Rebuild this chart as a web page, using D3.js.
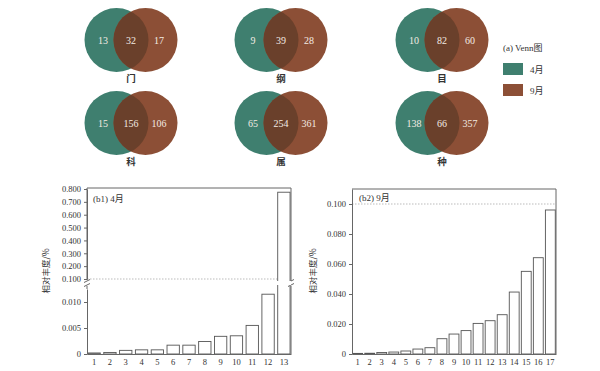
<!DOCTYPE html>
<html>
<head>
<meta charset="utf-8">
<script src="https://cdn.jsdelivr.net/npm/d3@7"></script>
<style>
  body { margin: 0; background: #fff; }
  svg { display: block; font-family: "Liberation Serif", "Noto Sans CJK SC", serif; }
</style>
</head>
<body>
<svg id="chart" width="600" height="371"></svg>
<script>
// venn data
var vennLabels = ['门', '纲', '目', '科', '属', '种'];
var aprOnly = [13, 9, 10, 15, 65, 138];
var shared = [32, 39, 82, 156, 254, 66];
var sepOnly = [17, 28, 60, 106, 361, 357];
var seriesNames = ['4月', '9月'];

// bar data (relative abundance, %)
var aprCats = [1, 2, 3, 4, 5, 6, 7, 8, 9, 10, 11, 12, 13];
var aprVals = [0.0002, 0.0003, 0.0007, 0.0008, 0.0008, 0.0017, 0.0017, 0.0024, 0.0034, 0.0035, 0.0055, 0.0115, 0.775];
var sepCats = [1, 2, 3, 4, 5, 6, 7, 8, 9, 10, 11, 12, 13, 14, 15, 16, 17];
var sepVals = [0.0004, 0.0005, 0.001, 0.0013, 0.002, 0.0033, 0.0042, 0.0102, 0.0133, 0.0156, 0.0204, 0.0222, 0.0262, 0.0413, 0.0551, 0.0642, 0.096];
var lowTicks = [0, 0.005, 0.010];
var highTicks = [0.1, 0.2, 0.3, 0.4, 0.5, 0.6, 0.7, 0.8];
var sepTicks = [0, 0.02, 0.04, 0.06, 0.08, 0.1];

var green = '#3f7f6f', brown = '#8c4f36', dark = '#6a402b';
var svg = d3.select('#chart');
var cjk = '"Noto Sans CJK SC", sans-serif';

// ---- Venn ----
var colX = [131, 281, 442], rowY = [40, 123];
var r = 32, d = 14.5;
var defs = svg.append('defs');
vennLabels.forEach(function(lab, i) {
  var cx = colX[i % 3], cy = rowY[Math.floor(i / 3)];
  var g = svg.append('g').attr('transform', 'translate(' + cx + ',' + cy + ')');
  defs.append('clipPath').attr('id', 'clip' + i)
    .append('circle').attr('cx', -d).attr('cy', 0).attr('r', r);
  g.append('circle').attr('cx', -d).attr('r', r).attr('fill', green);
  g.append('circle').attr('cx', d).attr('r', r).attr('fill', brown);
  g.append('circle').attr('cx', d).attr('r', r).attr('fill', dark).attr('clip-path', 'url(#clip' + i + ')');
  var nums = [aprOnly[i], shared[i], sepOnly[i]];
  g.selectAll('text.n').data(nums).enter().append('text')
    .attr('class', 'n')
    .attr('x', function(v, k) { return (k - 1) * 28; })
    .attr('y', 4)
    .attr('text-anchor', 'middle')
    .attr('font-size', 10)
    .attr('fill', '#f3ebe3')
    .text(function(v) { return v; });
  g.append('text').attr('x', 0).attr('y', 42)
    .attr('text-anchor', 'middle').attr('font-size', 9.5)
    .style('font-family', cjk).style('font-weight', 'bold').attr('fill', '#333')
    .text(lab);
});

// legend
svg.append('text').attr('x', 503).attr('y', 51).attr('font-size', 9).attr('fill', '#333')
  .text('(a) Venn').append('tspan').style('font-family', cjk).text('图');
seriesNames.forEach(function(s, i) {
  svg.append('rect').attr('x', 503).attr('y', 63 + i * 21).attr('width', 20).attr('height', 12)
    .attr('fill', i ? brown : green);
  svg.append('text').attr('x', 530).attr('y', 73 + i * 21).attr('font-size', 9).attr('fill', '#333')
    .text(s.replace('月', '')).append('tspan').style('font-family', cjk).text('月');
});

// ---- shared helpers ----
var axisColor = '#666', tickFont = 8.5;
function styleAxis(g) {
  g.selectAll('path,line').attr('stroke', axisColor);
  g.selectAll('text').attr('font-size', tickFont).attr('fill', '#333').style('font-family', '"Liberation Serif", serif');
}
function fmt(v) { return v === 0 ? '0' : d3.format('.3f')(v); }
function yLabel(x, y) {
  svg.append('text').attr('transform', 'translate(' + x + ',' + y + ') rotate(-90)')
    .attr('text-anchor', 'middle').attr('font-size', 8.5).attr('fill', '#333')
    .style('font-family', cjk).text('相对丰度/%');
}
function breakMark(x, y) {
  svg.append('rect').attr('x', x - 4).attr('y', y - 2).attr('width', 8).attr('height', 5).attr('fill', '#fff');
  [-2, 2].forEach(function(o) {
    svg.append('line').attr('x1', x - 3).attr('x2', x + 3).attr('y1', y + o + 1.5).attr('y2', y + o - 1.5)
      .attr('stroke', axisColor);
  });
}

// ---- (b1) April, broken axis ----
var b1 = {left: 87, right: 291, top: 188, bottom: 354};
var x1 = d3.scaleBand().domain(aprCats).range([b1.left, b1.right]).paddingInner(0.22).paddingOuter(0.06);
var yLow = d3.scaleLinear().domain([0, 0.0125]).range([b1.bottom, 289]);
var yHigh = d3.scaleLinear().domain([0.1, 0.8]).range([279, 189]);
var breakY = 283;

// frame
svg.append('line').attr('x1', b1.left).attr('x2', b1.right).attr('y1', b1.top).attr('y2', b1.top).attr('stroke', axisColor);
svg.append('line').attr('x1', b1.right).attr('x2', b1.right).attr('y1', b1.top).attr('y2', b1.bottom).attr('stroke', axisColor);
// dotted line at 0.1
svg.append('line').attr('x1', b1.left).attr('x2', b1.right).attr('y1', yHigh(0.1)).attr('y2', yHigh(0.1))
  .attr('stroke', '#bbb').attr('stroke-dasharray', '1.5,1.5');

svg.selectAll('rect.b1').data(aprVals).enter().append('rect')
  .attr('class', 'b1')
  .attr('x', function(v, i) { return x1(aprCats[i]); })
  .attr('width', x1.bandwidth())
  .attr('y', function(v) { return v > 0.05 ? yHigh(v) : yLow(v); })
  .attr('height', function(v) { return b1.bottom - (v > 0.05 ? yHigh(v) : yLow(v)); })
  .attr('fill', '#fff').attr('stroke', '#555').attr('stroke-width', 0.9);

svg.append('g').attr('transform', 'translate(' + b1.left + ',0)')
  .call(d3.axisLeft(yLow).tickValues(lowTicks).tickFormat(fmt).tickSize(3).tickSizeOuter(0)).call(styleAxis);
svg.append('g').attr('transform', 'translate(' + b1.left + ',0)')
  .call(d3.axisLeft(yHigh).tickValues(highTicks).tickFormat(fmt).tickSize(3).tickSizeOuter(0)).call(styleAxis);
svg.append('line').attr('x1', b1.left).attr('x2', b1.left).attr('y1', b1.top).attr('y2', 280).attr('stroke', axisColor);
svg.append('line').attr('x1', b1.left).attr('x2', b1.left).attr('y1', 286).attr('y2', 289).attr('stroke', axisColor);
svg.append('g').attr('transform', 'translate(0,' + b1.bottom + ')')
  .call(d3.axisBottom(x1).tickSize(0).tickPadding(5)).call(styleAxis);

// breaks on axes and tall bar
breakMark(b1.left, breakY);
breakMark(b1.right, breakY);
var tall = x1(aprCats[aprCats.length - 1]);
svg.append('rect').attr('x', tall - 1).attr('y', breakY - 2).attr('width', x1.bandwidth() + 2).attr('height', 4).attr('fill', '#fff');

svg.append('text').attr('x', 93).attr('y', 202).attr('font-size', 9).attr('fill', '#333')
  .text('(b1) 4').append('tspan').style('font-family', cjk).text('月');
yLabel(49, 271);

// ---- (b2) September ----
var b2 = {left: 352, right: 556, top: 189, bottom: 354};
var x2 = d3.scaleBand().domain(sepCats).range([b2.left, b2.right]).paddingInner(0.18).paddingOuter(0.06);
var y2 = d3.scaleLinear().domain([0, 0.11]).range([b2.bottom, b2.top]);

svg.append('line').attr('x1', b2.left).attr('x2', b2.right).attr('y1', b2.top).attr('y2', b2.top).attr('stroke', axisColor);
svg.append('line').attr('x1', b2.right).attr('x2', b2.right).attr('y1', b2.top).attr('y2', b2.bottom).attr('stroke', axisColor);
svg.append('line').attr('x1', b2.left).attr('x2', b2.right).attr('y1', y2(0.1)).attr('y2', y2(0.1))
  .attr('stroke', '#bbb').attr('stroke-dasharray', '1.5,1.5');

svg.selectAll('rect.b2').data(sepVals).enter().append('rect')
  .attr('class', 'b2')
  .attr('x', function(v, i) { return x2(sepCats[i]); })
  .attr('width', x2.bandwidth())
  .attr('y', function(v) { return y2(v); })
  .attr('height', function(v) { return b2.bottom - y2(v); })
  .attr('fill', '#fff').attr('stroke', '#555').attr('stroke-width', 0.9);

svg.append('g').attr('transform', 'translate(' + b2.left + ',0)')
  .call(d3.axisLeft(y2).tickValues(sepTicks).tickFormat(fmt).tickSize(3).tickSizeOuter(0)).call(styleAxis);
svg.append('g').attr('transform', 'translate(0,' + b2.bottom + ')')
  .call(d3.axisBottom(x2).tickSize(0).tickPadding(5)).call(styleAxis);

svg.append('text').attr('x', 359).attr('y', 201).attr('font-size', 9).attr('fill', '#333')
  .text('(b2) 9').append('tspan').style('font-family', cjk).text('月');
yLabel(316, 271);
</script>
</body>
</html>
